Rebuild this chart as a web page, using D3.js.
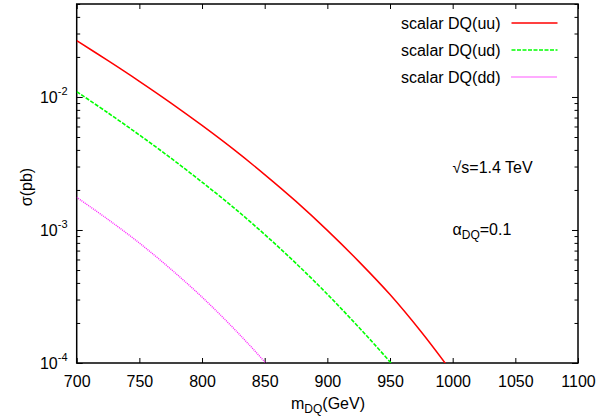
<!DOCTYPE html>
<html>
<head>
<meta charset="utf-8">
<script src="https://cdn.jsdelivr.net/npm/d3@7"></script>
<style>
  html, body { margin: 0; padding: 0; background: #fff; }
  svg { display: block; font-family: "Liberation Sans", Arial, Helvetica, sans-serif; }
</style>
</head>
<body>
<svg id="chart" width="599" height="418"></svg>
<script>
// ---- data ----
const masses = [700, 725, 750, 775, 800, 825, 850, 875, 900, 925, 950, 975, 1000];
const sigmaUU = [0.02649, 0.01875, 0.01312, 0.00904, 0.00611, 0.00405, 0.00261, 0.00164, 0.000993, 0.000581, 0.000327, 0.000171, 0.0000839];
const sigmaUD = [0.01096, 0.00759, 0.00518, 0.00348, 0.00229, 0.00148, 0.000925, 0.000561, 0.000329, 0.000186, 0.000102, 0.0000537, 0.0000270];
const sigmaDD = [0.00176, 0.00120, 0.000798, 0.000509, 0.000313, 0.000183, 0.000102, 0.0000537, 0.0000270, 0.0000130, 0.0000060, 0.0000027, 0.0000012];
const seriesNames = ["scalar DQ(uu)", "scalar DQ(ud)", "scalar DQ(dd)"];
const xTicks = [700, 750, 800, 850, 900, 950, 1000, 1050, 1100];
const yMajorTicks = [1e-4, 1e-3, 1e-2];
const yMajorExp = ["-4", "-3", "-2"];

// ---- layout ----
const L = 76.7, R = 578, T = 4, B = 363;
const svg = d3.select("#chart");

const x = d3.scaleLinear().domain([700, 1100]).range([L, R]);
const y = d3.scaleLog().domain([1e-4, 5e-2]).range([B, T]);

const minorTicks = [];
[1e-4, 1e-3, 1e-2].forEach(d => {
  for (let k = 2; k <= 9; k++) { const v = k * d; if (v <= 5e-2) minorTicks.push(v); }
});

svg.append("defs").append("clipPath").attr("id", "plotclip")
  .append("rect").attr("x", L).attr("y", T).attr("width", R - L).attr("height", B - T);

// axes (ticks inward)
const axisG = svg.append("g").attr("class", "axes");
function styleAxis(g) {
  g.select(".domain").remove();
  g.selectAll(".tick line").attr("stroke", "#000").attr("stroke-width", 1);
}
axisG.append("g").attr("transform", `translate(0,${B})`)
  .call(d3.axisBottom(x).tickValues(xTicks).tickSize(-5).tickSizeOuter(0).tickPadding(12.5).tickFormat(d3.format("d")))
  .call(styleAxis)
  .call(g => g.selectAll(".tick text").attr("font-size", 16).attr("fill", "#000").attr("font-family", "Liberation Sans, Arial, sans-serif"));
axisG.append("g").attr("transform", `translate(0,${T})`)
  .call(d3.axisTop(x).tickValues(xTicks).tickSize(-5).tickSizeOuter(0).tickFormat(""))
  .call(styleAxis);
axisG.append("g").attr("transform", `translate(${L},0)`)
  .call(d3.axisLeft(y).tickValues(yMajorTicks).tickSize(-6).tickSizeOuter(0).tickFormat(""))
  .call(styleAxis);
axisG.append("g").attr("transform", `translate(${L},0)`)
  .call(d3.axisLeft(y).tickValues(minorTicks).tickSize(-3.5).tickSizeOuter(0).tickFormat(""))
  .call(styleAxis);
axisG.append("g").attr("transform", `translate(${R},0)`)
  .call(d3.axisRight(y).tickValues(yMajorTicks).tickSize(-6).tickSizeOuter(0).tickFormat(""))
  .call(styleAxis);
axisG.append("g").attr("transform", `translate(${R},0)`)
  .call(d3.axisRight(y).tickValues(minorTicks).tickSize(-3.5).tickSizeOuter(0).tickFormat(""))
  .call(styleAxis);

// y tick labels with superscripts
yMajorTicks.forEach((v, i) => {
  const t = svg.append("text").attr("x", 67.5).attr("y", y(v) + 6)
    .attr("text-anchor", "end").attr("font-size", 16).attr("fill", "#000");
  t.append("tspan").text("10");
  t.append("tspan").attr("font-size", 11).attr("dy", -8).text(yMajorExp[i]);
});

// frame
svg.append("rect").attr("x", L).attr("y", T).attr("width", R - L).attr("height", B - T)
  .attr("fill", "none").attr("stroke", "#000").attr("stroke-width", 1.5);

// curves
const series = [
  { name: seriesNames[0], values: sigmaUU, color: "#ff0000", dash: null, width: 1.5 },
  { name: seriesNames[1], values: sigmaUD, color: "#00ff00", dash: "4,1.5", width: 1.6 },
  { name: seriesNames[2], values: sigmaDD, color: "#ff22ff", dash: "1,1", width: 1.4 }
];
const line = d3.line().x(d => x(d[0])).y(d => y(d[1])).curve(d3.curveCatmullRom);
const plotG = svg.append("g").attr("clip-path", "url(#plotclip)");
series.forEach(s => {
  plotG.append("path")
    .datum(masses.map((m, i) => [m, s.values[i]]))
    .attr("d", line)
    .attr("fill", "none")
    .attr("stroke", s.color)
    .attr("stroke-width", s.width)
    .attr("stroke-dasharray", s.dash);
});

// legend
const legendRows = [23, 50, 77];
series.forEach((s, i) => {
  svg.append("text").attr("x", 500.5).attr("y", legendRows[i] + 5.8)
    .attr("text-anchor", "end").attr("font-size", 16).attr("fill", "#000").text(s.name);
  svg.append("line").attr("x1", 511.5).attr("x2", 557.5)
    .attr("y1", legendRows[i]).attr("y2", legendRows[i])
    .attr("stroke", s.color).attr("stroke-width", s.width).attr("stroke-dasharray", s.dash);
});

// annotations
svg.append("text").attr("x", 452.5).attr("y", 172.5).attr("font-size", 16).attr("fill", "#000")
  .text("\u221As=1.4 TeV");
const a = svg.append("text").attr("x", 452.5).attr("y", 235).attr("font-size", 16).attr("fill", "#000");
a.append("tspan").text("\u03B1");
a.append("tspan").attr("font-size", 12).attr("dy", 4).text("DQ");
a.append("tspan").attr("dy", -4).text("=0.1");

// axis titles
const xt = svg.append("text").attr("x", 328).attr("y", 409).attr("text-anchor", "middle")
  .attr("font-size", 16).attr("fill", "#000");
xt.append("tspan").text("m");
xt.append("tspan").attr("font-size", 12).attr("dy", 4).text("DQ");
xt.append("tspan").attr("dy", -4).text("(GeV)");

svg.append("text").attr("transform", "translate(32,187) rotate(-90)")
  .attr("text-anchor", "middle").attr("font-size", 16).attr("fill", "#000").text("\u03C3(pb)");
</script>
</body>
</html>
